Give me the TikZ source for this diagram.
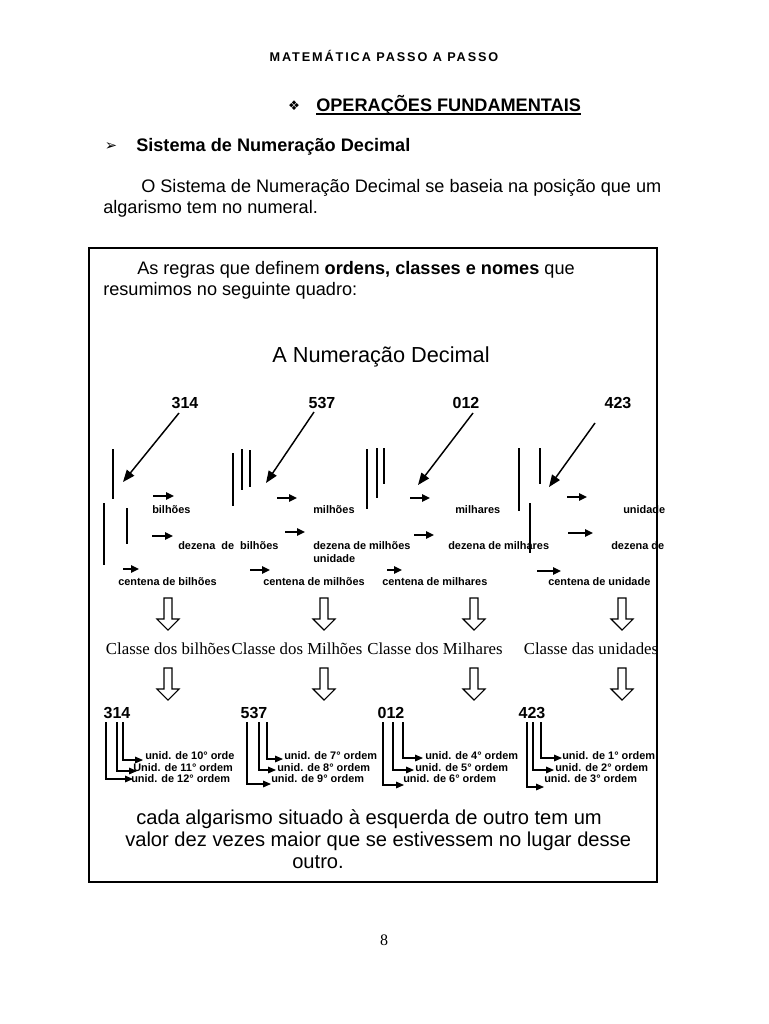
\documentclass[tikz,border=0pt]{standalone}
\usepackage{fontspec}
\setmainfont{Liberation Sans}
\newfontfamily\timesf{Liberation Serif}
\newfontfamily\dejavu{DejaVu Sans}
\usetikzlibrary{arrows.meta}
\newcommand\hdarrow[2]{%
  \draw[hollow] ({#1-4},#2) -- ({#1+4},#2) -- ({#1+4},{#2+21}) -- ({#1+11},{#2+21}) -- (#1,{#2+32}) -- ({#1-11},{#2+21}) -- ({#1-4},{#2+21}) -- cycle;}
\begin{document}
\begin{tikzpicture}[x=0.75pt,y=-0.75pt,
  txt/.style={inner sep=0pt, anchor=base west},
  ctxt/.style={inner sep=0pt, anchor=base},
  body/.style={txt, font=\fontsize{13.6}{16}\selectfont},
  lbl/.style={inner sep=0pt, anchor=base west, font=\fontsize{8.2}{9}\selectfont\bfseries},
  ulbl/.style={inner sep=0pt, anchor=base west, font=\fontsize{8.2}{9}\selectfont\bfseries},
  num/.style={inner sep=0pt, anchor=base, font=\fontsize{12}{14}\selectfont\bfseries},
  bar/.style={line width=1.5pt},
  thinbar/.style={line width=0.8pt},
  diag/.style={line width=1.1pt, -{Triangle[length=9pt,width=7pt]}},
  sarr/.style={line width=1.1pt, -{Triangle[length=6pt,width=5.5pt]}},
  uarr/.style={line width=0.8pt, -{Triangle[length=6pt,width=5pt]}},
  hollow/.style={line width=0.8pt},
  classe/.style={inner sep=0pt, anchor=base, font=\timesf\fontsize{12.6}{15}\selectfont}
]
\useasboundingbox[fill=white] (0,0) rectangle (768,1024);

% header
\node[ctxt, font=\fontsize{9.5}{11}\selectfont\bfseries\addfontfeature{LetterSpace=15}] (hdr) at (384,62) {MATEMÁTICA PASSO A PASSO};
\node[ctxt, font=\dejavu\fontsize{10}{12}\selectfont] (dia) at (294,110) {❖};
\node[txt, font=\fontsize{13.6}{16}\selectfont\bfseries] (op) at (316,111) {OPERAÇÕES FUNDAMENTAIS};
\draw[line width=0.9pt] ([yshift=-2.2pt]op.base west) -- ([yshift=-2.2pt]op.base east);
\node[ctxt, font=\dejavu\fontsize{11}{13}\selectfont] (tri) at (111,150) {➢};
\node[txt, font=\fontsize{13.6}{16}\selectfont\bfseries] (sis) at (136,151) {Sistema de Numeração Decimal};
\node[body] (p1) at (141,192) {O Sistema de Numeração Decimal se baseia na posição que um};
\node[body] (p2) at (103,213) {algarismo tem no numeral.};

% frame
\draw[line width=0.8pt] (89,248) rectangle (657,882);
\node[body] (r1) at (137,274) {As regras que definem \textbf{ordens, classes e nomes} que};
\node[body] (r2) at (103,295) {resumimos no seguinte quadro:};
\node[ctxt, font=\fontsize{16.3}{19}\selectfont] (title) at (381,362) {A Numeração Decimal};

% top numbers
\node[num] (n1) at (185,408) {314};
\node[num] (n2) at (322,408) {537};
\node[num] (n3) at (466,408) {012};
\node[num] (n4) at (618,408) {423};
\coordinate (t1) at (123,482);
\coordinate (t2) at (266,483);
\coordinate (t3) at (418,485);
\coordinate (t4) at (549,487);
\draw[diag] (179,413) -- (t1);
\draw[diag] (314,412) -- (t2);
\draw[diag] (473,413) -- (t3);
\draw[diag] (595,423) -- (t4);

% vertical bars
\draw[bar] (113,449) -- (113,499);
\draw[bar] (104,503) -- (104,565);
\draw[thinbar] (127,508) -- (127,544);
\draw[bar] (233,453) -- (233,506);
\draw[bar] (242,449) -- (242,490);
\draw[bar] (250,450) -- (250,487);
\draw[bar] (367,449) -- (367,509);
\draw[bar] (377,448) -- (377,498);
\draw[bar] (384,448) -- (384,484);
\draw[bar] (519,448) -- (519,511);
\draw[thinbar] (540,448) -- (540,484);
\draw[thinbar] (530,503) -- (530,553);

% small arrows
\draw[sarr] (153,496) -- (174,496);
\draw[sarr] (152,536) -- (173,536);
\draw[sarr] (123,569) -- (139,569);
\draw[sarr] (277,498) -- (297,498);
\draw[sarr] (285,532) -- (305,532);
\draw[sarr] (250,570) -- (270,570);
\draw[sarr] (410,498) -- (430,498);
\draw[sarr] (414,535) -- (434,535);
\draw[sarr] (387,570) -- (402,570);
\draw[sarr] (567,497) -- (587,497);
\draw[sarr] (568,533) -- (593,533);
\draw[sarr] (537,571) -- (561,571);

% small labels
\node[lbl] (l11) at (152,513) {bilhões};
\node[lbl] (l12) at (178,549) {dezena\ \ de\ \ bilhões};
\node[lbl] (l13) at (118,585) {centena de bilhões};
\node[lbl] (l21) at (313,513) {milhões};
\node[lbl] (l22) at (313,549) {dezena de milhões};
\node[lbl] (l22b) at (313,562) {unidade};
\node[lbl] (l23) at (263,585) {centena de milhões};
\node[lbl] (l31) at (455,513) {milhares};
\node[lbl] (l32) at (448,549) {dezena de milhares};
\node[lbl] (l33) at (382,585) {centena de milhares};
\node[lbl] (l41) at (623,513) {unidade};
\node[lbl] (l42) at (611,549) {dezena de};
\node[lbl] (l43) at (548,585) {centena de unidade};

% hollow arrows
\hdarrow{168}{598}
\hdarrow{324}{598}
\hdarrow{474}{598}
\hdarrow{622}{598}
\node[classe] (c1) at (168,654) {Classe dos bilhões};
\node[classe] (c2) at (297,654) {Classe dos Milhões};
\node[classe] (c3) at (435,654) {Classe dos Milhares};
\node[classe] (c4) at (591,654) {Classe das unidades};
\hdarrow{168}{668}
\hdarrow{324}{668}
\hdarrow{474}{668}
\hdarrow{622}{668}

% bottom numbers
\node[num] (b1) at (117,718) {314};
\node[num] (b2) at (254,718) {537};
\node[num] (b3) at (391,718) {012};
\node[num] (b4) at (532,718) {423};

\draw[uarr] (123,722) |- (143,760);
\draw[uarr] (117,722) |- (137,771);
\draw[uarr] (106,722) |- (133,779);
\draw[uarr] (267,722) |- (283,759);
\draw[uarr] (259,722) |- (276,770);
\draw[uarr] (247,722) |- (271,784);
\draw[uarr] (403,722) |- (423,758);
\draw[uarr] (393,722) |- (414,770);
\draw[uarr] (383,722) |- (404,785);
\draw[uarr] (541,722) |- (562,758);
\draw[uarr] (533,722) |- (554,770);
\draw[uarr] (527,722) |- (544,787);

\node[ulbl] (u10) at (145,759) {unid. de 10° orde};
\node[ulbl] (u11) at (133,771) {Unid. de 11° ordem};
\node[ulbl] (u12) at (131,782) {unid. de 12° ordem};
\node[ulbl] (u7) at (284,759) {unid. de 7° ordem};
\node[ulbl] (u8) at (277,771) {unid. de 8° ordem};
\node[ulbl] (u9) at (271,782) {unid. de 9° ordem};
\node[ulbl] (u4) at (425,759) {unid. de 4° ordem};
\node[ulbl] (u5) at (415,771) {unid. de 5° ordem};
\node[ulbl] (u6) at (403,782) {unid. de 6° ordem};
\node[ulbl] (u1) at (562,759) {unid. de 1° ordem};
\node[ulbl] (u2) at (555,771) {unid. de 2° ordem};
\node[ulbl] (u3) at (544,782) {unid. de 3° ordem};

% bottom text
\node[txt, font=\fontsize{15.1}{18}\selectfont] (q1) at (136,824) {cada algarismo situado à esquerda de outro tem um};
\node[txt, font=\fontsize{15.1}{18}\selectfont] (q2) at (125,846) {valor dez vezes maior que se estivessem no lugar desse};
\node[txt, font=\fontsize{15.1}{18}\selectfont] (q3) at (292,868) {outro.};

\node[ctxt, font=\timesf\fontsize{12}{14}\selectfont] (pg) at (384,945) {8};
\end{tikzpicture}
\end{document}
